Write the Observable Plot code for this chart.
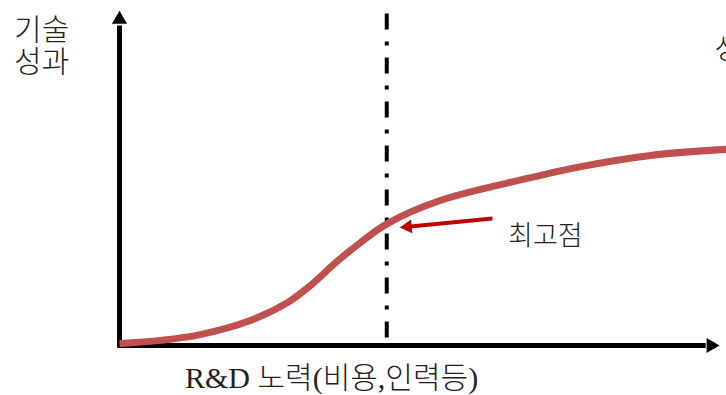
<!DOCTYPE html>
<html>
<head>
<meta charset="utf-8">
<script src="https://cdn.jsdelivr.net/npm/d3@7"></script>
<script src="https://cdn.jsdelivr.net/npm/@observablehq/plot@0.6"></script>
<style>
  html, body { margin: 0; padding: 0; background: #fff; overflow: hidden; }
  #chart svg { display: block; overflow: visible; }
</style>
</head>
<body>
<div id="chart"></div>
<script>
// S-curve of technology performance versus R&D effort (schematic units 0–10)
const effort = [0, 0.71, 1.39, 2.25, 2.89, 3.29, 3.72, 4.15, 4.61, 5.52, 7.02, 7.94, 9.14, 10.45];
const performance = [0.06, 0.16, 0.34, 0.78, 1.34, 1.88, 2.59, 3.22, 3.81, 4.53, 5.22, 5.59, 5.94, 6.13];

// Inflection ("최고점") marker and its pointer
const peakEffort = 4.6;
const peakTop = 10.375;
const pointerFrom = { x: 6.42, y: 3.97 };
const pointerHead = { x: 4.96, y: 3.71 };

// Axis extents (in the same schematic units)
const xAxisEnd = 10.09, xHead = 10.18;
const yAxisEnd = 10.0, yHead = 10.19;
const xAxisStart = -0.04;

// Labels
const yLabelLines = [
  { text: "기술", x: -1.34, y: 9.84 },
  { text: "성과", x: -1.34, y: 8.84 }
];
const xLabel = { text: "R&D 노력(비용,인력등)", x: 3.65, y: -1.03 };
const peakLabel = { text: "최고점", x: 7.33, y: 3.42 };
const edgeLabel = { text: "성숙기", x: 10.24, y: 9.22 };

const curve = effort.map((x, i) => ({ x, y: performance[i] }));

// Scale settings shared by the plot and the pointer-head angle
const xScale = { domain: [0, 10], range: [119, 700] };
const yScale = { domain: [0, 10], range: [345, 25] };
const sx = d3.scaleLinear(xScale.domain, xScale.range);
const sy = d3.scaleLinear(yScale.domain, yScale.range);
const dxPx = sx(pointerHead.x) - sx(pointerFrom.x);
const dyPx = sy(pointerHead.y) - sy(pointerFrom.y);
const headRotate = Math.atan2(dxPx, -dyPx) * 180 / Math.PI;

const font = "'Liberation Serif', 'Noto Sans CJK KR', serif";

const plot = Plot.plot({
  width: 726,
  height: 395,
  marginTop: 0, marginRight: 0, marginBottom: 0, marginLeft: 0,
  x: { ...xScale, axis: null },
  y: { ...yScale, axis: null },
  style: { fontFamily: font, background: "white", overflow: "visible" },
  marks: [
    // dash-dot reference line
    Plot.line([{ x: peakEffort, y: peakTop }, { x: peakEffort, y: 0.1 }], {
      x: "x", y: "y", stroke: "black", strokeWidth: 4,
      strokeDasharray: "16,12,4,12", strokeLinecap: "butt"
    }),
    // axes
    Plot.line([{ x: 0, y: 0 }, { x: 0, y: yAxisEnd }], {
      x: "x", y: "y", stroke: "black", strokeWidth: 5, strokeLinecap: "butt"
    }),
    Plot.line([{ x: xAxisStart, y: 0 }, { x: xAxisEnd, y: 0 }], {
      x: "x", y: "y", stroke: "black", strokeWidth: 5, strokeLinecap: "butt"
    }),
    Plot.dot([{ x: 0, y: yHead }], {
      x: "x", y: "y", symbol: "triangle2", r: 7.2, fill: "black", stroke: "none"
    }),
    Plot.dot([{ x: xHead, y: 0 }], {
      x: "x", y: "y", symbol: "triangle2", r: 7.2, fill: "black", stroke: "none", rotate: 90
    }),
    // performance curve
    Plot.line(curve, {
      x: "x", y: "y", stroke: "#c0504d", strokeWidth: 7, curve: "catmull-rom",
      strokeLinecap: "butt"
    }),
    // pointer to the marked point: shaft plus filled head
    Plot.link([{ x1: pointerFrom.x, y1: pointerFrom.y, x2: pointerHead.x, y2: pointerHead.y }], {
      x1: "x1", y1: "y1", x2: "x2", y2: "y2", stroke: "#c00000", strokeWidth: 4
    }),
    Plot.dot([pointerHead], {
      x: "x", y: "y", symbol: "triangle2", r: 6.6, fill: "#c00000", stroke: "none",
      rotate: headRotate
    }),
    // labels
    Plot.text(yLabelLines, {
      x: "x", y: "y", text: "text", fontSize: 30, fontWeight: 300, fill: "#222", textAnchor: "middle"
    }),
    Plot.text([xLabel], {
      x: "x", y: "y", text: "text", fontSize: 30, fontWeight: 300, fill: "#222", textAnchor: "middle"
    }),
    Plot.text([peakLabel], {
      x: "x", y: "y", text: "text", fontSize: 27, fontWeight: 300, fill: "#222", textAnchor: "middle"
    }),
    Plot.text([edgeLabel], {
      x: "x", y: "y", text: "text", fontSize: 28, fontWeight: 300, fill: "#222", textAnchor: "start"
    })
  ]
});

document.getElementById("chart").appendChild(plot);
</script>
</body>
</html>
